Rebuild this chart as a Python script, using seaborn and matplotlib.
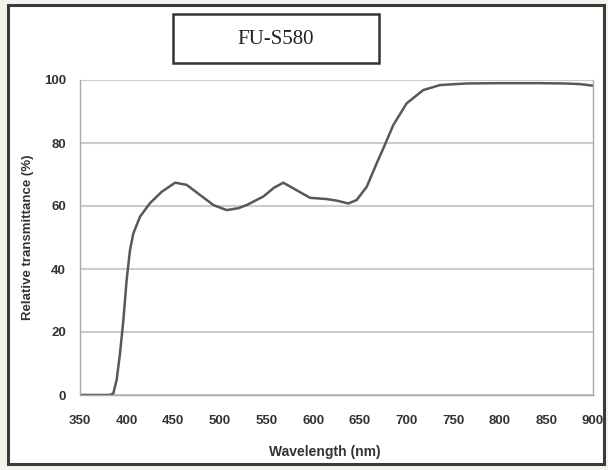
import matplotlib
matplotlib.use("Agg")
import matplotlib.pyplot as plt
import seaborn as sns
import pandas as pd
from matplotlib.patches import Rectangle

wavelength = [350, 370, 382, 385.7, 389.3, 392.9, 396.5, 400, 403.6, 407.2, 414.3, 425,
              437.6, 452, 464.4, 478.7, 493, 507.3, 519.7, 528.7, 546.5, 558, 568,
              582.3, 596.6, 614.5, 625.2, 637.7, 646.6, 657.4, 668, 675.2, 685.9,
              700.2, 718, 736, 764.6, 800, 840, 870, 886, 900]
transmittance = [0, 0, 0, 0.5, 4.8, 13.2, 23.8, 36.5, 46, 51.3, 56.6, 60.9,
                 64.5, 67.4, 66.7, 63.5, 60.3, 58.7, 59.3, 60.3, 63, 65.8, 67.4,
                 65, 62.6, 62.2, 61.7, 60.8, 61.9, 66.1, 73.5, 78.3, 85.7,
                 92.6, 96.8, 98.4, 98.9, 99.0, 99.0, 98.9, 98.7, 98.2]
title = "FU-S580"
x_ticks = list(range(350, 901, 50))
y_ticks = list(range(0, 101, 20))

df = pd.DataFrame({"Wavelength (nm)": wavelength, "Relative transmittance (%)": transmittance})

sns.set_style("white")
plt.rcParams["font.family"] = ["Liberation Sans", "DejaVu Sans"]

fig = plt.figure(figsize=(6.08, 4.70), dpi=100)
fig.patch.set_facecolor("#f3f5ec")
# outer chart frame
frame = Rectangle((8 / 608, 6 / 470), 596 / 608, 459 / 470, transform=fig.transFigure,
                  facecolor="white", edgecolor="#3a3a3a", linewidth=2.2, zorder=-5)
fig.add_artist(frame)
# title box
box = Rectangle((173 / 608, 1 - 63 / 470), 206 / 608, 49 / 470, transform=fig.transFigure,
                facecolor="white", edgecolor="#333333", linewidth=1.8, zorder=1)
fig.add_artist(box)
fig.text(276 / 608, 1 - 40 / 470, title, ha="center", va="center", fontsize=15,
         family=["Liberation Serif", "DejaVu Serif"], color="#222222", zorder=2)

ax = fig.add_axes([80 / 608, 1 - 395 / 470, 513 / 608, 315 / 470])
ax.set_zorder(0)
ax.set_facecolor("white")
sns.lineplot(data=df, x="Wavelength (nm)", y="Relative transmittance (%)", ax=ax,
             color="#585858", linewidth=1.8)

ax.set_xlim(350, 900)
ax.set_ylim(0, 100)
ax.set_xticks(x_ticks)
ax.set_yticks(y_ticks)
ax.set_xticks(list(range(375, 900, 50)), minor=True)
ax.tick_params(axis="x", which="both", direction="inout", length=5, width=0.8, color="#999999",
               labelsize=9.5, labelcolor="#333333", pad=12)
ax.tick_params(axis="y", which="major", direction="out", length=4, width=0.8, color="#999999",
               labelsize=9.5, labelcolor="#333333", pad=6)
for lab in ax.get_xticklabels() + ax.get_yticklabels():
    lab.set_fontweight("bold")
ax.yaxis.grid(True, color="#cccccc", linewidth=1.5)
ax.set_axisbelow(True)
for side in ["left", "bottom", "right"]:
    ax.spines[side].set_color("#aaaaaa")
    ax.spines[side].set_linewidth(1.0)
ax.spines["top"].set_visible(False)
ax.set_xlabel("Wavelength (nm)", fontsize=10, fontweight="bold", color="#333333")
ax.xaxis.set_label_coords((325 - 80) / 513, -(452 - 395) / 315)
ax.set_ylabel("Relative transmittance (%)", fontsize=9.5, fontweight="bold", color="#333333")
ax.yaxis.set_label_coords(-(80 - 28) / 513, 0.5)
ax.yaxis.label.set_va("center")
ax.xaxis.label.set_va("center")

fig.savefig("out.png", dpi=100, facecolor=fig.get_facecolor())
